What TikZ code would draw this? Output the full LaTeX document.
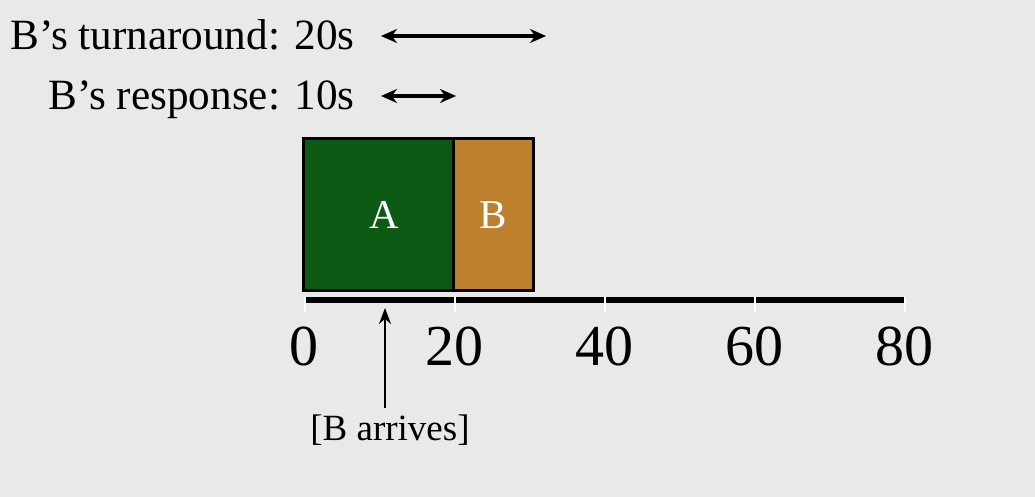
\documentclass[tikz,border=0pt]{standalone}
\usepackage{fontspec}
\setmainfont{Liberation Serif}
\usetikzlibrary{arrows.meta, positioning}
\definecolor{slidebg}{RGB}{233,233,231}
\definecolor{greenA}{RGB}{12,90,20}
\definecolor{orangeB}{RGB}{190,128,44}
\tikzset{
  job/.style   ={rectangle, draw=black, line width=1.5pt, outer sep=0pt,
                 minimum height=76pt, inner sep=0pt, text=white,
                 font=\fontsize{20.5}{24}\selectfont},
  lbl/.style   ={anchor=base east, inner sep=0pt, font=\fontsize{21.6}{26}\selectfont},
  num/.style   ={inner sep=0pt, font=\fontsize{29}{32}\selectfont},
  note/.style  ={inner sep=0pt, font=\fontsize{18.5}{22}\selectfont},
  span/.style  ={{Stealth[length=8pt,width=7pt]}-{Stealth[length=8pt,width=7pt]}, line width=1.8pt},
  axis/.style  ={line width=2.8pt},
  axtick/.style={draw=white, line width=1pt},
  pointer/.style={-{Stealth[length=8pt,width=6pt]}, line width=1.1pt},
}
\begin{document}
\begin{tikzpicture}[x=0.5pt, y=-0.5pt]
\fill[slidebg] (0,0) rectangle (1035,497);
\useasboundingbox (0,0) rectangle (1035,497);

% ---- metrics ----
\node[lbl] (turn) at (355,50) {B’s turnaround: 20s};
\node[lbl] (resp) at (355,110) {B’s response: 10s};
\coordinate (turnL) at (381,36);
\coordinate (turnR) at (546,36);
\coordinate (respL) at (381,96);
\coordinate (respR) at (456,96);
\draw[span] (turnL) -- (turnR);
\draw[span] (respL) -- (respR);

% ---- jobs ----
\node[job, fill=greenA, minimum width=75pt, anchor=north west, text depth=0pt] (jobA) at (303,139) {\hspace*{6pt}A};
\node[job, fill=orangeB, minimum width=40pt, anchor=west] (jobB) at (jobA.east) {B};

% ---- time axis ----
\coordinate (t0) at (305,300);
\coordinate (t80) at (905,300);
\draw[axis] (t0) -- (t80);
\foreach \v in {0,20,...,80} {
  \draw[axtick] (305+7.5*\v,297) -- ++(0,15);
  \node[num] (n\v) at (304+7.5*\v,346) {\v};
}

% ---- arrival ----
\node[note] (arrives) at (390,430) {[B arrives]};
\coordinate (arrT) at (385,308);
\draw[pointer] (arrives.north -| arrT) ++(0,-6) -- (arrT);

\end{tikzpicture}
\end{document}
